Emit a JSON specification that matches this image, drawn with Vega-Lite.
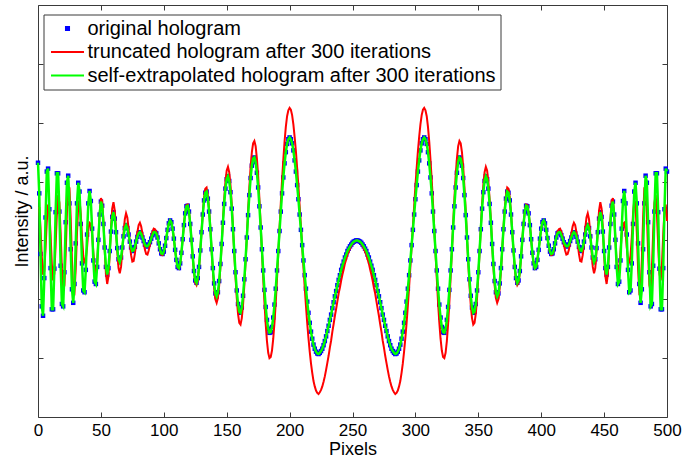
{
"$schema":"https://vega.github.io/schema/vega-lite/v6.json",
"width":629,"height":412,
"autosize":{"type":"none"},
"padding":{"left":38,"top":5,"right":24,"bottom":40},
"background":"white",
"config":{"view":{"stroke":null},"font":"Liberation Sans","axis":{"grid":false,"domainColor":"#3a3a3a","tickColor":"#3a3a3a","labelColor":"black","titleColor":"black","labelFont":"Liberation Sans","titleFont":"Liberation Sans","titleFontWeight":"normal"},
 "legend":{"padding":4,"rowPadding":3.5,"labelFontSize":20,"labelFont":"Liberation Sans","labelColor":"black","labelOffset":10,"labelLimit":800,"symbolSize":289,"symbolOffset":10,"symbolStrokeWidth":2,"symbolOpacity":1,"strokeColor":"#3a3a3a","fillColor":"white","cornerRadius":0}},
"data":{"values":[
{"x":0,"o":1.32,"r":0.55},{"x":1,"o":0.80,"r":0.55},{"x":2,"o":-0.23,"r":0.20},{"x":3,"o":-1.12,"r":-0.27},{"x":4,"o":-1.28,"r":-0.58},{"x":5,"o":-0.64,"r":-0.52},{"x":6,"o":0.39,"r":-0.13},{"x":7,"o":1.17,"r":0.33},{"x":8,"o":1.22,"r":0.61},{"x":9,"o":0.53,"r":0.51},
{"x":10,"o":-0.47,"r":0.10},{"x":11,"o":-1.17,"r":-0.40},{"x":12,"o":-1.17,"r":-0.68},{"x":13,"o":-0.48,"r":-0.56},{"x":14,"o":0.48,"r":-0.09},{"x":15,"o":1.14,"r":0.45},{"x":16,"o":1.14,"r":0.77},{"x":17,"o":0.49,"r":0.64},{"x":18,"o":-0.43,"r":0.13},{"x":19,"o":-1.08,"r":-0.48},
{"x":20,"o":-1.12,"r":-0.86},{"x":21,"o":-0.54,"r":-0.76},{"x":22,"o":0.31,"r":-0.23},{"x":23,"o":0.98,"r":0.46},{"x":24,"o":1.10,"r":0.91},{"x":25,"o":0.63,"r":0.89},{"x":26,"o":-0.15,"r":0.38},{"x":27,"o":-0.83,"r":-0.34},{"x":28,"o":-1.06,"r":-0.84},{"x":29,"o":-0.74,"r":-0.88},
{"x":30,"o":-0.05,"r":-0.48},{"x":31,"o":0.63,"r":0.13},{"x":32,"o":0.98,"r":0.59},{"x":33,"o":0.83,"r":0.69},{"x":34,"o":0.28,"r":0.45},{"x":35,"o":-0.39,"r":0.05},{"x":36,"o":-0.85,"r":-0.26},{"x":37,"o":-0.88,"r":-0.39},{"x":38,"o":-0.50,"r":-0.31},{"x":39,"o":0.10,"r":-0.12},
{"x":40,"o":0.63,"r":0.18},{"x":41,"o":0.84,"r":0.30},{"x":42,"o":0.67,"r":0.28},{"x":43,"o":0.20,"r":0.10},{"x":44,"o":-0.34,"r":-0.20},{"x":45,"o":-0.70,"r":-0.47},{"x":46,"o":-0.74,"r":-0.56},{"x":47,"o":-0.45,"r":-0.39},{"x":48,"o":0.01,"r":0.01},{"x":49,"o":0.44,"r":0.45},
{"x":50,"o":0.66,"r":0.72},{"x":51,"o":0.59,"r":0.67},{"x":52,"o":0.28,"r":0.34},{"x":53,"o":-0.12,"r":-0.15},{"x":54,"o":-0.45,"r":-0.57},{"x":55,"o":-0.58,"r":-0.74},{"x":56,"o":-0.47,"r":-0.61},{"x":57,"o":-0.18,"r":-0.24},{"x":58,"o":0.15,"r":0.20},{"x":59,"o":0.40,"r":0.54},
{"x":60,"o":0.48,"r":0.65},{"x":61,"o":0.37,"r":0.51},{"x":62,"o":0.14,"r":0.19},{"x":63,"o":-0.13,"r":-0.18},{"x":64,"o":-0.32,"r":-0.47},{"x":65,"o":-0.37,"r":-0.56},{"x":66,"o":-0.29,"r":-0.45},{"x":67,"o":-0.12,"r":-0.18},{"x":68,"o":0.07,"r":0.12},{"x":69,"o":0.21,"r":0.36},
{"x":70,"o":0.26,"r":0.46},{"x":71,"o":0.21,"r":0.39},{"x":72,"o":0.10,"r":0.20},{"x":73,"o":-0.02,"r":-0.04},{"x":74,"o":-0.12,"r":-0.25},{"x":75,"o":-0.18,"r":-0.36},{"x":76,"o":-0.17,"r":-0.35},{"x":77,"o":-0.11,"r":-0.23},{"x":78,"o":-0.02,"r":-0.04},{"x":79,"o":0.06,"r":0.14},
{"x":80,"o":0.12,"r":0.26},{"x":81,"o":0.14,"r":0.30},{"x":82,"o":0.11,"r":0.24},{"x":83,"o":0.05,"r":0.12},{"x":84,"o":-0.01,"r":-0.03},{"x":85,"o":-0.07,"r":-0.16},{"x":86,"o":-0.10,"r":-0.23},{"x":87,"o":-0.10,"r":-0.24},{"x":88,"o":-0.07,"r":-0.17},{"x":89,"o":-0.03,"r":-0.07},
{"x":90,"o":0.03,"r":0.05},{"x":91,"o":0.09,"r":0.15},{"x":92,"o":0.14,"r":0.20},{"x":93,"o":0.14,"r":0.19},{"x":94,"o":0.12,"r":0.15},{"x":95,"o":0.05,"r":0.06},{"x":96,"o":-0.05,"r":-0.06},{"x":97,"o":-0.15,"r":-0.17},{"x":98,"o":-0.22,"r":-0.24},{"x":99,"o":-0.23,"r":-0.25},
{"x":100,"o":-0.19,"r":-0.20},{"x":101,"o":-0.09,"r":-0.10},{"x":102,"o":0.04,"r":0.04},{"x":103,"o":0.18,"r":0.18},{"x":104,"o":0.29,"r":0.29},{"x":105,"o":0.34,"r":0.34},{"x":106,"o":0.31,"r":0.31},{"x":107,"o":0.20,"r":0.20},{"x":108,"o":0.03,"r":0.03},{"x":109,"o":-0.16,"r":-0.16},
{"x":110,"o":-0.33,"r":-0.34},{"x":111,"o":-0.45,"r":-0.46},{"x":112,"o":-0.47,"r":-0.48},{"x":113,"o":-0.39,"r":-0.40},{"x":114,"o":-0.21,"r":-0.22},{"x":115,"o":0.02,"r":0.02},{"x":116,"o":0.26,"r":0.27},{"x":117,"o":0.46,"r":0.48},{"x":118,"o":0.58,"r":0.60},{"x":119,"o":0.59,"r":0.61},
{"x":120,"o":0.49,"r":0.51},{"x":121,"o":0.28,"r":0.29},{"x":122,"o":0.01,"r":0.01},{"x":123,"o":-0.27,"r":-0.28},{"x":124,"o":-0.52,"r":-0.55},{"x":125,"o":-0.68,"r":-0.72},{"x":126,"o":-0.72,"r":-0.76},{"x":127,"o":-0.64,"r":-0.68},{"x":128,"o":-0.45,"r":-0.48},{"x":129,"o":-0.17,"r":-0.18},
{"x":130,"o":0.14,"r":0.15},{"x":131,"o":0.44,"r":0.47},{"x":132,"o":0.68,"r":0.73},{"x":133,"o":0.81,"r":0.88},{"x":134,"o":0.83,"r":0.90},{"x":135,"o":0.71,"r":0.77},{"x":136,"o":0.49,"r":0.54},{"x":137,"o":0.19,"r":0.21},{"x":138,"o":-0.15,"r":-0.17},{"x":139,"o":-0.47,"r":-0.52},
{"x":140,"o":-0.73,"r":-0.81},{"x":141,"o":-0.90,"r":-1.00},{"x":142,"o":-0.95,"r":-1.06},{"x":143,"o":-0.88,"r":-0.98},{"x":144,"o":-0.69,"r":-0.77},{"x":145,"o":-0.40,"r":-0.45},{"x":146,"o":-0.06,"r":-0.07},{"x":147,"o":0.30,"r":0.34},{"x":148,"o":0.62,"r":0.70},{"x":149,"o":0.88,"r":1.00},
{"x":150,"o":1.04,"r":1.19},{"x":151,"o":1.09,"r":1.25},{"x":152,"o":1.01,"r":1.16},{"x":153,"o":0.82,"r":0.94},{"x":154,"o":0.54,"r":0.62},{"x":155,"o":0.19,"r":0.22},{"x":156,"o":-0.18,"r":-0.21},{"x":157,"o":-0.54,"r":-0.62},{"x":158,"o":-0.85,"r":-0.98},{"x":159,"o":-1.08,"r":-1.25},
{"x":160,"o":-1.21,"r":-1.40},{"x":161,"o":-1.23,"r":-1.43},{"x":162,"o":-1.14,"r":-1.32},{"x":163,"o":-0.94,"r":-1.09},{"x":164,"o":-0.66,"r":-0.77},{"x":165,"o":-0.32,"r":-0.37},{"x":166,"o":0.05,"r":0.06},{"x":167,"o":0.43,"r":0.50},{"x":168,"o":0.77,"r":0.90},{"x":169,"o":1.06,"r":1.25},
{"x":170,"o":1.27,"r":1.50},{"x":171,"o":1.39,"r":1.65},{"x":172,"o":1.41,"r":1.69},{"x":173,"o":1.33,"r":1.60},{"x":174,"o":1.15,"r":1.39},{"x":175,"o":0.90,"r":1.10},{"x":176,"o":0.58,"r":0.71},{"x":177,"o":0.22,"r":0.27},{"x":178,"o":-0.15,"r":-0.19},{"x":179,"o":-0.51,"r":-0.63},
{"x":180,"o":-0.84,"r":-1.05},{"x":181,"o":-1.13,"r":-1.42},{"x":182,"o":-1.35,"r":-1.71},{"x":183,"o":-1.50,"r":-1.91},{"x":184,"o":-1.57,"r":-2.00},{"x":185,"o":-1.56,"r":-1.98},{"x":186,"o":-1.47,"r":-1.87},{"x":187,"o":-1.31,"r":-1.67},{"x":188,"o":-1.09,"r":-1.39},{"x":189,"o":-0.82,"r":-1.05},
{"x":190,"o":-0.51,"r":-0.65},{"x":191,"o":-0.18,"r":-0.23},{"x":192,"o":0.16,"r":0.20},{"x":193,"o":0.49,"r":0.63},{"x":194,"o":0.80,"r":1.02},{"x":195,"o":1.07,"r":1.37},{"x":196,"o":1.31,"r":1.68},{"x":197,"o":1.50,"r":1.93},{"x":198,"o":1.64,"r":2.11},{"x":199,"o":1.72,"r":2.21},
{"x":200,"o":1.75,"r":2.25},{"x":201,"o":1.72,"r":2.22},{"x":202,"o":1.65,"r":2.13},{"x":203,"o":1.53,"r":1.97},{"x":204,"o":1.36,"r":1.76},{"x":205,"o":1.17,"r":1.52},{"x":206,"o":0.94,"r":1.23},{"x":207,"o":0.70,"r":0.92},{"x":208,"o":0.44,"r":0.58},{"x":209,"o":0.18,"r":0.24},
{"x":210,"o":-0.08,"r":-0.11},{"x":211,"o":-0.34,"r":-0.45},{"x":212,"o":-0.59,"r":-0.79},{"x":213,"o":-0.82,"r":-1.11},{"x":214,"o":-1.04,"r":-1.40},{"x":215,"o":-1.23,"r":-1.66},{"x":216,"o":-1.40,"r":-1.89},{"x":217,"o":-1.55,"r":-2.09},{"x":218,"o":-1.67,"r":-2.25},{"x":219,"o":-1.77,"r":-2.39},
{"x":220,"o":-1.84,"r":-2.48},{"x":221,"o":-1.89,"r":-2.55},{"x":222,"o":-1.92,"r":-2.59},{"x":223,"o":-1.93,"r":-2.61},{"x":224,"o":-1.91,"r":-2.58},{"x":225,"o":-1.88,"r":-2.54},{"x":226,"o":-1.84,"r":-2.48},{"x":227,"o":-1.78,"r":-2.40},{"x":228,"o":-1.71,"r":-2.31},{"x":229,"o":-1.63,"r":-2.20},
{"x":230,"o":-1.54,"r":-2.08},{"x":231,"o":-1.45,"r":-1.96},{"x":232,"o":-1.35,"r":-1.82},{"x":233,"o":-1.26,"r":-1.70},{"x":234,"o":-1.15,"r":-1.55},{"x":235,"o":-1.05,"r":-1.42},{"x":236,"o":-0.95,"r":-1.28},{"x":237,"o":-0.86,"r":-1.16},{"x":238,"o":-0.76,"r":-1.03},{"x":239,"o":-0.67,"r":-0.90},
{"x":240,"o":-0.59,"r":-0.80},{"x":241,"o":-0.50,"r":-0.68},{"x":242,"o":-0.43,"r":-0.58},{"x":243,"o":-0.36,"r":-0.49},{"x":244,"o":-0.29,"r":-0.39},{"x":245,"o":-0.24,"r":-0.32},{"x":246,"o":-0.18,"r":-0.24},{"x":247,"o":-0.14,"r":-0.19},{"x":248,"o":-0.10,"r":-0.14},{"x":249,"o":-0.07,"r":-0.09},
{"x":250,"o":-0.04,"r":-0.05},{"x":251,"o":-0.02,"r":-0.03},{"x":252,"o":-0.01,"r":-0.01},{"x":253,"o":0.00,"r":0.00},{"x":254,"o":0.00,"r":0.00},{"x":255,"o":-0.01,"r":-0.01},{"x":256,"o":-0.02,"r":-0.03},{"x":257,"o":-0.04,"r":-0.05},{"x":258,"o":-0.07,"r":-0.09},{"x":259,"o":-0.10,"r":-0.14},
{"x":260,"o":-0.14,"r":-0.19},{"x":261,"o":-0.18,"r":-0.24},{"x":262,"o":-0.24,"r":-0.32},{"x":263,"o":-0.29,"r":-0.39},{"x":264,"o":-0.36,"r":-0.49},{"x":265,"o":-0.43,"r":-0.58},{"x":266,"o":-0.50,"r":-0.68},{"x":267,"o":-0.59,"r":-0.80},{"x":268,"o":-0.67,"r":-0.90},{"x":269,"o":-0.76,"r":-1.03},
{"x":270,"o":-0.86,"r":-1.16},{"x":271,"o":-0.95,"r":-1.28},{"x":272,"o":-1.05,"r":-1.42},{"x":273,"o":-1.15,"r":-1.55},{"x":274,"o":-1.26,"r":-1.70},{"x":275,"o":-1.35,"r":-1.82},{"x":276,"o":-1.45,"r":-1.96},{"x":277,"o":-1.54,"r":-2.08},{"x":278,"o":-1.63,"r":-2.20},{"x":279,"o":-1.71,"r":-2.31},
{"x":280,"o":-1.78,"r":-2.40},{"x":281,"o":-1.84,"r":-2.48},{"x":282,"o":-1.88,"r":-2.54},{"x":283,"o":-1.91,"r":-2.58},{"x":284,"o":-1.93,"r":-2.61},{"x":285,"o":-1.92,"r":-2.59},{"x":286,"o":-1.89,"r":-2.55},{"x":287,"o":-1.84,"r":-2.48},{"x":288,"o":-1.77,"r":-2.39},{"x":289,"o":-1.67,"r":-2.25},
{"x":290,"o":-1.55,"r":-2.09},{"x":291,"o":-1.40,"r":-1.89},{"x":292,"o":-1.23,"r":-1.66},{"x":293,"o":-1.04,"r":-1.40},{"x":294,"o":-0.82,"r":-1.11},{"x":295,"o":-0.59,"r":-0.79},{"x":296,"o":-0.34,"r":-0.45},{"x":297,"o":-0.08,"r":-0.11},{"x":298,"o":0.18,"r":0.24},{"x":299,"o":0.44,"r":0.58},
{"x":300,"o":0.70,"r":0.92},{"x":301,"o":0.94,"r":1.23},{"x":302,"o":1.17,"r":1.52},{"x":303,"o":1.36,"r":1.76},{"x":304,"o":1.53,"r":1.97},{"x":305,"o":1.65,"r":2.13},{"x":306,"o":1.72,"r":2.22},{"x":307,"o":1.75,"r":2.25},{"x":308,"o":1.72,"r":2.21},{"x":309,"o":1.64,"r":2.11},
{"x":310,"o":1.50,"r":1.93},{"x":311,"o":1.31,"r":1.68},{"x":312,"o":1.07,"r":1.37},{"x":313,"o":0.80,"r":1.02},{"x":314,"o":0.49,"r":0.63},{"x":315,"o":0.16,"r":0.20},{"x":316,"o":-0.18,"r":-0.23},{"x":317,"o":-0.51,"r":-0.65},{"x":318,"o":-0.82,"r":-1.05},{"x":319,"o":-1.09,"r":-1.39},
{"x":320,"o":-1.31,"r":-1.67},{"x":321,"o":-1.47,"r":-1.87},{"x":322,"o":-1.56,"r":-1.98},{"x":323,"o":-1.57,"r":-2.00},{"x":324,"o":-1.50,"r":-1.91},{"x":325,"o":-1.35,"r":-1.71},{"x":326,"o":-1.13,"r":-1.42},{"x":327,"o":-0.84,"r":-1.05},{"x":328,"o":-0.51,"r":-0.63},{"x":329,"o":-0.15,"r":-0.19},
{"x":330,"o":0.22,"r":0.27},{"x":331,"o":0.58,"r":0.71},{"x":332,"o":0.90,"r":1.10},{"x":333,"o":1.15,"r":1.39},{"x":334,"o":1.33,"r":1.60},{"x":335,"o":1.41,"r":1.69},{"x":336,"o":1.39,"r":1.65},{"x":337,"o":1.27,"r":1.50},{"x":338,"o":1.06,"r":1.25},{"x":339,"o":0.77,"r":0.90},
{"x":340,"o":0.43,"r":0.50},{"x":341,"o":0.05,"r":0.06},{"x":342,"o":-0.32,"r":-0.37},{"x":343,"o":-0.66,"r":-0.77},{"x":344,"o":-0.94,"r":-1.09},{"x":345,"o":-1.14,"r":-1.32},{"x":346,"o":-1.23,"r":-1.43},{"x":347,"o":-1.21,"r":-1.40},{"x":348,"o":-1.08,"r":-1.25},{"x":349,"o":-0.85,"r":-0.98},
{"x":350,"o":-0.54,"r":-0.62},{"x":351,"o":-0.18,"r":-0.21},{"x":352,"o":0.19,"r":0.22},{"x":353,"o":0.54,"r":0.62},{"x":354,"o":0.82,"r":0.94},{"x":355,"o":1.01,"r":1.16},{"x":356,"o":1.09,"r":1.25},{"x":357,"o":1.04,"r":1.19},{"x":358,"o":0.88,"r":1.00},{"x":359,"o":0.62,"r":0.70},
{"x":360,"o":0.30,"r":0.34},{"x":361,"o":-0.06,"r":-0.07},{"x":362,"o":-0.40,"r":-0.45},{"x":363,"o":-0.69,"r":-0.77},{"x":364,"o":-0.88,"r":-0.98},{"x":365,"o":-0.95,"r":-1.06},{"x":366,"o":-0.90,"r":-1.00},{"x":367,"o":-0.73,"r":-0.81},{"x":368,"o":-0.47,"r":-0.52},{"x":369,"o":-0.15,"r":-0.17},
{"x":370,"o":0.19,"r":0.21},{"x":371,"o":0.49,"r":0.54},{"x":372,"o":0.71,"r":0.77},{"x":373,"o":0.83,"r":0.90},{"x":374,"o":0.81,"r":0.88},{"x":375,"o":0.68,"r":0.73},{"x":376,"o":0.44,"r":0.47},{"x":377,"o":0.14,"r":0.15},{"x":378,"o":-0.17,"r":-0.18},{"x":379,"o":-0.45,"r":-0.48},
{"x":380,"o":-0.64,"r":-0.68},{"x":381,"o":-0.72,"r":-0.76},{"x":382,"o":-0.68,"r":-0.72},{"x":383,"o":-0.52,"r":-0.55},{"x":384,"o":-0.27,"r":-0.28},{"x":385,"o":0.01,"r":0.01},{"x":386,"o":0.28,"r":0.29},{"x":387,"o":0.49,"r":0.51},{"x":388,"o":0.59,"r":0.61},{"x":389,"o":0.58,"r":0.60},
{"x":390,"o":0.46,"r":0.48},{"x":391,"o":0.26,"r":0.27},{"x":392,"o":0.02,"r":0.02},{"x":393,"o":-0.21,"r":-0.22},{"x":394,"o":-0.39,"r":-0.40},{"x":395,"o":-0.47,"r":-0.48},{"x":396,"o":-0.45,"r":-0.46},{"x":397,"o":-0.33,"r":-0.34},{"x":398,"o":-0.16,"r":-0.16},{"x":399,"o":0.03,"r":0.03},
{"x":400,"o":0.20,"r":0.20},{"x":401,"o":0.31,"r":0.31},{"x":402,"o":0.34,"r":0.34},{"x":403,"o":0.29,"r":0.29},{"x":404,"o":0.18,"r":0.18},{"x":405,"o":0.04,"r":0.04},{"x":406,"o":-0.09,"r":-0.10},{"x":407,"o":-0.19,"r":-0.20},{"x":408,"o":-0.23,"r":-0.25},{"x":409,"o":-0.22,"r":-0.24},
{"x":410,"o":-0.15,"r":-0.17},{"x":411,"o":-0.05,"r":-0.06},{"x":412,"o":0.05,"r":0.06},{"x":413,"o":0.12,"r":0.15},{"x":414,"o":0.14,"r":0.19},{"x":415,"o":0.14,"r":0.20},{"x":416,"o":0.09,"r":0.15},{"x":417,"o":0.03,"r":0.05},{"x":418,"o":-0.03,"r":-0.07},{"x":419,"o":-0.07,"r":-0.17},
{"x":420,"o":-0.10,"r":-0.24},{"x":421,"o":-0.10,"r":-0.23},{"x":422,"o":-0.07,"r":-0.16},{"x":423,"o":-0.01,"r":-0.03},{"x":424,"o":0.05,"r":0.12},{"x":425,"o":0.11,"r":0.24},{"x":426,"o":0.14,"r":0.30},{"x":427,"o":0.12,"r":0.26},{"x":428,"o":0.06,"r":0.14},{"x":429,"o":-0.02,"r":-0.04},
{"x":430,"o":-0.11,"r":-0.23},{"x":431,"o":-0.17,"r":-0.35},{"x":432,"o":-0.18,"r":-0.36},{"x":433,"o":-0.12,"r":-0.25},{"x":434,"o":-0.02,"r":-0.04},{"x":435,"o":0.10,"r":0.20},{"x":436,"o":0.21,"r":0.39},{"x":437,"o":0.26,"r":0.46},{"x":438,"o":0.21,"r":0.36},{"x":439,"o":0.07,"r":0.12},
{"x":440,"o":-0.12,"r":-0.18},{"x":441,"o":-0.29,"r":-0.45},{"x":442,"o":-0.37,"r":-0.56},{"x":443,"o":-0.32,"r":-0.47},{"x":444,"o":-0.13,"r":-0.18},{"x":445,"o":0.14,"r":0.19},{"x":446,"o":0.37,"r":0.51},{"x":447,"o":0.48,"r":0.65},{"x":448,"o":0.40,"r":0.54},{"x":449,"o":0.15,"r":0.20},
{"x":450,"o":-0.18,"r":-0.24},{"x":451,"o":-0.47,"r":-0.61},{"x":452,"o":-0.58,"r":-0.74},{"x":453,"o":-0.45,"r":-0.57},{"x":454,"o":-0.12,"r":-0.15},{"x":455,"o":0.28,"r":0.34},{"x":456,"o":0.59,"r":0.67},{"x":457,"o":0.66,"r":0.72},{"x":458,"o":0.44,"r":0.45},{"x":459,"o":0.01,"r":0.01},
{"x":460,"o":-0.45,"r":-0.39},{"x":461,"o":-0.74,"r":-0.56},{"x":462,"o":-0.70,"r":-0.47},{"x":463,"o":-0.34,"r":-0.20},{"x":464,"o":0.20,"r":0.10},{"x":465,"o":0.67,"r":0.28},{"x":466,"o":0.84,"r":0.30},{"x":467,"o":0.63,"r":0.18},{"x":468,"o":0.10,"r":-0.12},{"x":469,"o":-0.50,"r":-0.31},
{"x":470,"o":-0.88,"r":-0.39},{"x":471,"o":-0.85,"r":-0.26},{"x":472,"o":-0.39,"r":0.05},{"x":473,"o":0.28,"r":0.45},{"x":474,"o":0.83,"r":0.69},{"x":475,"o":0.98,"r":0.59},{"x":476,"o":0.63,"r":0.13},{"x":477,"o":-0.05,"r":-0.48},{"x":478,"o":-0.74,"r":-0.88},{"x":479,"o":-1.06,"r":-0.84},
{"x":480,"o":-0.83,"r":-0.34},{"x":481,"o":-0.15,"r":0.38},{"x":482,"o":0.63,"r":0.89},{"x":483,"o":1.10,"r":0.91},{"x":484,"o":0.98,"r":0.46},{"x":485,"o":0.31,"r":-0.23},{"x":486,"o":-0.54,"r":-0.76},{"x":487,"o":-1.12,"r":-0.86},{"x":488,"o":-1.08,"r":-0.48},{"x":489,"o":-0.43,"r":0.13},
{"x":490,"o":0.49,"r":0.64},{"x":491,"o":1.14,"r":0.77},{"x":492,"o":1.14,"r":0.45},{"x":493,"o":0.48,"r":-0.09},{"x":494,"o":-0.48,"r":-0.56},{"x":495,"o":-1.17,"r":-0.68},{"x":496,"o":-1.17,"r":-0.40},{"x":497,"o":-0.47,"r":0.10},{"x":498,"o":0.53,"r":0.51},{"x":499,"o":1.22,"r":0.61},
{"x":500,"o":1.17,"r":0.33}
]},
"layer":[
{"mark":{"type":"point","shape":"square","filled":true,"size":20,"opacity":1},
 "encoding":{
  "x":{"field":"x","type":"quantitative","scale":{"domain":[0,500],"nice":false,"zero":false},
       "axis":{"orient":"bottom","values":[0,50,100,150,200,250,300,350,400,450,500],"tickSize":-5,"labelFontSize":17,"labelPadding":10,"labelFlush":false,"title":"Pixels","titleFontSize":18,"titlePadding":2}},
  "y":{"field":"o","type":"quantitative","scale":{"domain":[-3,4],"nice":false,"zero":false},
       "axis":{"orient":"left","values":[-2,-1,0,1,2,3],"tickSize":-5,"labels":false,"title":"Intensity / a.u.","titleFontSize":18,"titlePadding":6}},
  "color":{"datum":"original hologram","type":"nominal",
       "scale":{"domain":["original hologram","truncated hologram after 300 iterations","self-extrapolated hologram after 300 iterations"],"range":["#0000ff","#ff0000","#00ff00"]},
       "legend":{"title":null,"orient":"none","legendX":5.5,"legendY":9.5}}
 }},
{"mark":{"type":"line","strokeWidth":2},
 "encoding":{
  "x":{"field":"x","type":"quantitative","scale":{"domain":[0,500],"nice":false,"zero":false},"axis":null},
  "y":{"field":"r","type":"quantitative","scale":{"domain":[-3,4],"nice":false,"zero":false},"axis":null},
  "color":{"datum":"truncated hologram after 300 iterations","type":"nominal",
       "scale":{"domain":["original hologram","truncated hologram after 300 iterations","self-extrapolated hologram after 300 iterations"]},
       "legend":{"title":null,"orient":"none","legendX":5.5,"legendY":9.5}}
 }},
{"mark":{"type":"line","strokeWidth":2.5},
 "encoding":{
  "x":{"field":"x","type":"quantitative","scale":{"domain":[0,500],"nice":false,"zero":false},"axis":null},
  "y":{"field":"o","type":"quantitative","scale":{"domain":[-3,4],"nice":false,"zero":false},"axis":null},
  "color":{"datum":"self-extrapolated hologram after 300 iterations","type":"nominal",
       "scale":{"domain":["original hologram","truncated hologram after 300 iterations","self-extrapolated hologram after 300 iterations"]},
       "legend":{"title":null,"orient":"none","legendX":5.5,"legendY":9.5}}
 }},
{"mark":{"type":"point","opacity":0},
 "encoding":{
  "x":{"field":"x","type":"quantitative","scale":{"domain":[0,500],"nice":false,"zero":false},
       "axis":{"orient":"top","values":[0,50,100,150,200,250,300,350,400,450,500],"tickSize":-5,"labels":false,"title":null}},
  "y":{"field":"o","type":"quantitative","scale":{"domain":[-3,4],"nice":false,"zero":false},
       "axis":{"orient":"right","values":[-2,-1,0,1,2,3],"tickSize":-5,"labels":false,"title":null}},
  "shape":{"datum":"original hologram","type":"nominal",
       "scale":{"domain":["original hologram","truncated hologram after 300 iterations","self-extrapolated hologram after 300 iterations"],"range":["M-0.18,-0.18H0.18V0.18H-0.18Z","M-1.94,0H1.94","M-1.94,0H1.94"]},
       "legend":{"title":null,"orient":"none","legendX":5.5,"legendY":9.5}}
 }}
],
"resolve":{"axis":{"x":"independent","y":"independent"}}
}
